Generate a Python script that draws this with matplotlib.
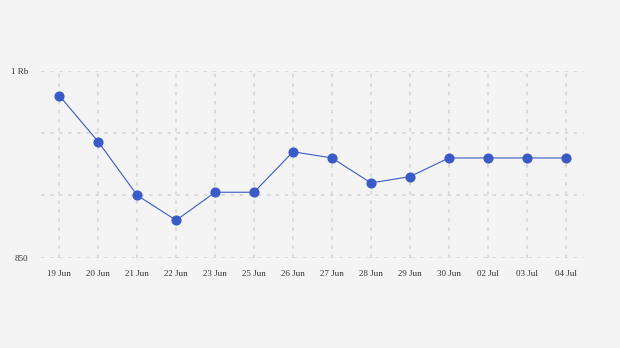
import matplotlib
matplotlib.use("Agg")
import matplotlib.pyplot as plt

dates = ["19 Jun", "20 Jun", "21 Jun", "22 Jun", "23 Jun", "25 Jun", "26 Jun",
         "27 Jun", "28 Jun", "29 Jun", "30 Jun", "02 Jul", "03 Jul", "04 Jul"]
values = [980, 943, 900, 880, 902.5, 902.5, 935, 930, 910, 915, 930, 930, 930, 930]
ytick_vals = [850, 900, 950, 1000]
ytick_labels = ["850", "", "", "1 Rb"]

bg = "#f4f4f4"
fig = plt.figure(figsize=(6.2, 3.48), dpi=100, facecolor=bg)
ax = fig.add_axes([41/620, 1-257.7/348, (584-41)/620, (257.7-70.7)/348], facecolor=bg)

x = list(range(len(dates)))
ax.plot(x, values, color="#3a5bc7", linewidth=0.8, marker="o", markersize=6.3,
        markerfacecolor="#3a5bc7", markeredgecolor="#3a5bc7", zorder=3, clip_on=False)

ax.set_xlim(-0.47, len(dates) - 1 + 0.47)
ax.set_ylim(850, 1000)
ax.set_xticks(x)
ax.set_xticklabels(dates)
ax.set_yticks(ytick_vals)
ax.set_yticklabels(ytick_labels)

for s in ax.spines.values():
    s.set_visible(False)

ax.grid(True, color="#d8d8d8", linestyle=(0, (2, 3)), linewidth=1.3)
ax.set_axisbelow(True)
ax.tick_params(axis="both", length=0, labelsize=6.5, labelcolor="#333333",
               labelfontfamily="Liberation Serif")
ax.tick_params(axis="x", pad=9)
ax.tick_params(axis="y", pad=9)

fig.savefig("out.png", dpi=100, facecolor=bg)
